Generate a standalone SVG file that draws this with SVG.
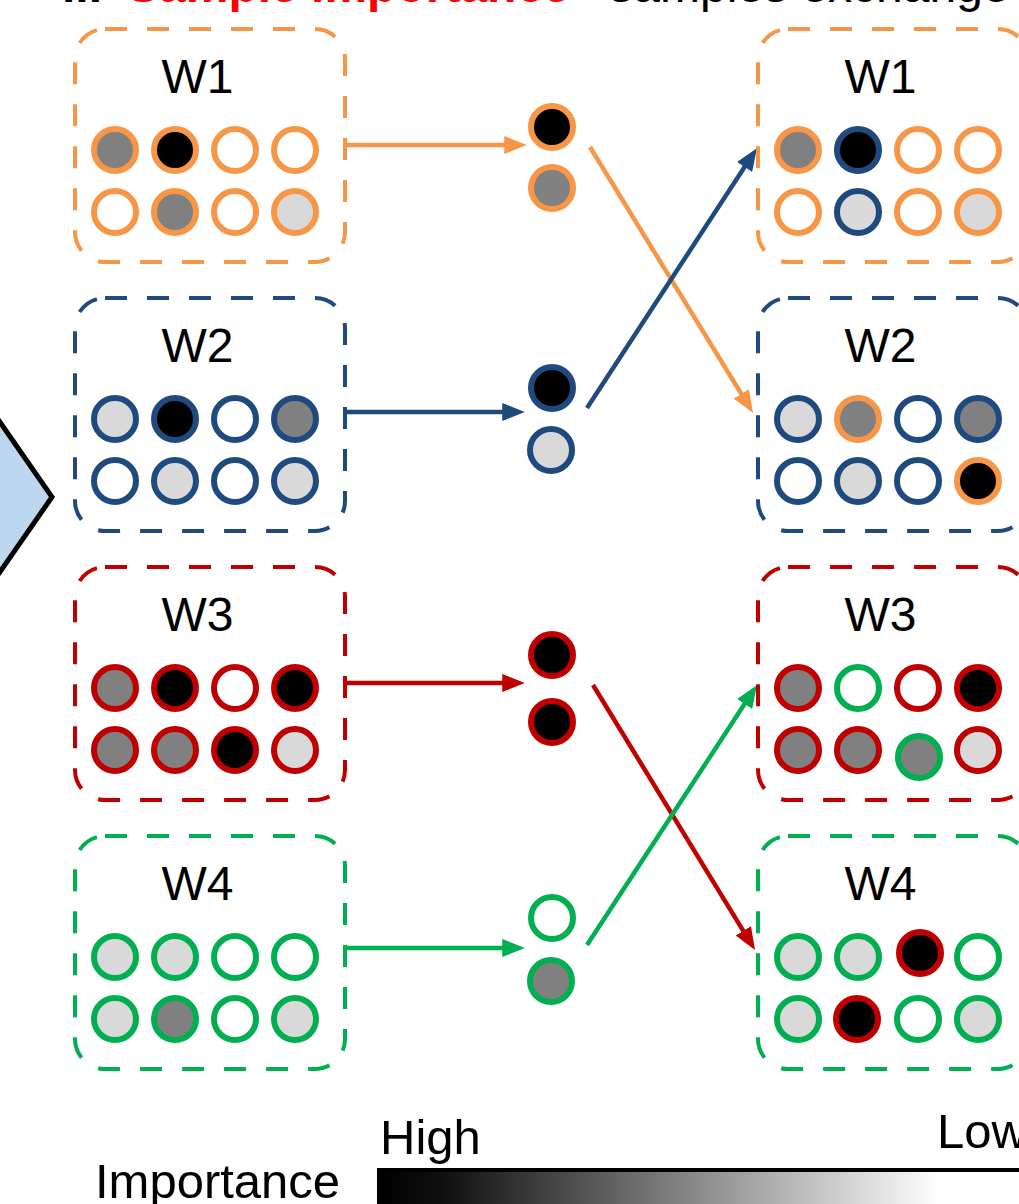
<svg xmlns="http://www.w3.org/2000/svg" width="1019" height="1204" viewBox="0 0 1019 1204">
<defs>
<style>
.t{font-family:"Liberation Sans",Arial,sans-serif;fill:#000}
.lbl{font-size:48px;text-anchor:middle}
.box{fill:none;stroke-width:4;stroke-dasharray:22 20}
.c{stroke-width:6}
.o{stroke:#F79646}.b{stroke:#1F4A7E}.r{stroke:#C00000}.g{stroke:#00B050}
.k{fill:#000}.m{fill:#808080}.l{fill:#D9D9D9}.w{fill:#fff}
.ln{stroke-width:4.5;fill:none}
</style>
<marker id="ao" viewBox="0 0 10 8" refX="7" refY="4" markerWidth="5" markerHeight="4" orient="auto"><path d="M0,0 L10,4 L0,8 z" fill="#F79646"/></marker>
<marker id="ab" viewBox="0 0 10 8" refX="7" refY="4" markerWidth="5" markerHeight="4" orient="auto"><path d="M0,0 L10,4 L0,8 z" fill="#1F4A7E"/></marker>
<marker id="ar" viewBox="0 0 10 8" refX="7" refY="4" markerWidth="5" markerHeight="4" orient="auto"><path d="M0,0 L10,4 L0,8 z" fill="#C00000"/></marker>
<marker id="ag" viewBox="0 0 10 8" refX="7" refY="4" markerWidth="5" markerHeight="4" orient="auto"><path d="M0,0 L10,4 L0,8 z" fill="#00B050"/></marker>
<linearGradient id="imp" gradientUnits="userSpaceOnUse" x1="378" y1="0" x2="940" y2="0">
<stop offset="0" stop-color="#000"/>
<stop offset="0.12" stop-color="#111"/>
<stop offset="1" stop-color="#fff"/>
</linearGradient>
</defs>
<rect width="1019" height="1204" fill="#fff"/>

<g id="title">
<text class="t" x="62" y="1.5" font-size="48" font-weight="bold">ii.</text>
<text class="t" x="127" y="1.5" font-size="48" font-weight="bold" style="fill:#FF0000">Sample importance</text>
<text class="t" x="580" y="1.5" font-size="48"> - samples exchange</text>
</g>

<g id="big-arrow">
<polygon points="-30,379 52,497 -30,615" fill="#BDD7EE" stroke="#000" stroke-width="5" stroke-linejoin="miter"/>
</g>

<g id="connectors">
<line class="ln o" x1="347" y1="145" x2="520" y2="145" marker-end="url(#ao)"/>
<line class="ln b" x1="345" y1="412" x2="518" y2="412" marker-end="url(#ab)"/>
<line class="ln r" x1="345" y1="683" x2="518" y2="683" marker-end="url(#ar)"/>
<line class="ln g" x1="345" y1="948" x2="518" y2="948" marker-end="url(#ag)"/>
<line class="ln o" x1="590" y1="147" x2="749.5" y2="407.3" marker-end="url(#ao)"/>
<line class="ln b" x1="587" y1="408" x2="753.2" y2="153.8" marker-end="url(#ab)"/>
<line class="ln r" x1="593" y1="685" x2="751.5" y2="944.3" marker-end="url(#ar)"/>
<line class="ln g" x1="587" y1="945" x2="753.2" y2="690.8" marker-end="url(#ag)"/>
</g>

<!-- Left workers -->
<g id="W1-left">
<rect class="box o" x="75" y="29" width="270" height="233" rx="30"/>
<text class="t lbl" x="197.5" y="93">W1</text>
<circle class="c o m" cx="115" cy="150" r="21"/><circle class="c o k" cx="175" cy="150" r="21"/><circle class="c o w" cx="235" cy="150" r="21"/><circle class="c o w" cx="295" cy="150" r="21"/>
<circle class="c o w" cx="115" cy="212" r="21"/><circle class="c o m" cx="175" cy="212" r="21"/><circle class="c o w" cx="235" cy="212" r="21"/><circle class="c o l" cx="295" cy="212" r="21"/>
</g>
<g id="W2-left">
<rect class="box b" x="75" y="298" width="270" height="233" rx="30"/>
<text class="t lbl" x="197.5" y="362">W2</text>
<circle class="c b l" cx="115" cy="419" r="21"/><circle class="c b k" cx="175" cy="419" r="21"/><circle class="c b w" cx="235" cy="419" r="21"/><circle class="c b m" cx="295" cy="419" r="21"/>
<circle class="c b w" cx="115" cy="481" r="21"/><circle class="c b l" cx="175" cy="481" r="21"/><circle class="c b w" cx="235" cy="481" r="21"/><circle class="c b l" cx="295" cy="481" r="21"/>
</g>
<g id="W3-left">
<rect class="box r" x="75" y="567" width="270" height="233" rx="30"/>
<text class="t lbl" x="197.5" y="631">W3</text>
<circle class="c r m" cx="115" cy="688" r="21"/><circle class="c r k" cx="175" cy="688" r="21"/><circle class="c r w" cx="235" cy="688" r="21"/><circle class="c r k" cx="295" cy="688" r="21"/>
<circle class="c r m" cx="115" cy="750" r="21"/><circle class="c r m" cx="175" cy="750" r="21"/><circle class="c r k" cx="235" cy="750" r="21"/><circle class="c r l" cx="295" cy="750" r="21"/>
</g>
<g id="W4-left">
<rect class="box g" x="75" y="836" width="270" height="233" rx="30"/>
<text class="t lbl" x="197.5" y="900">W4</text>
<circle class="c g l" cx="115" cy="957" r="21"/><circle class="c g l" cx="175" cy="957" r="21"/><circle class="c g w" cx="235" cy="957" r="21"/><circle class="c g w" cx="295" cy="957" r="21"/>
<circle class="c g l" cx="115" cy="1019" r="21"/><circle class="c g m" cx="175" cy="1019" r="21"/><circle class="c g w" cx="235" cy="1019" r="21"/><circle class="c g l" cx="295" cy="1019" r="21"/>
</g>

<!-- Middle exchanged samples -->
<g id="W1-samples"><circle class="c o k" cx="552" cy="127" r="21"/><circle class="c o m" cx="552" cy="188" r="21"/></g>
<g id="W2-samples"><circle class="c b k" cx="552" cy="388" r="21"/><circle class="c b l" cx="551" cy="450" r="21"/></g>
<g id="W3-samples"><circle class="c r k" cx="552" cy="655" r="21"/><circle class="c r k" cx="552" cy="722" r="21"/></g>
<g id="W4-samples"><circle class="c g w" cx="552" cy="918" r="21"/><circle class="c g m" cx="551" cy="981" r="21"/></g>

<!-- Right workers -->
<g id="W1-right">
<rect class="box o" x="758" y="29" width="270" height="233" rx="30"/>
<text class="t lbl" x="880.5" y="93">W1</text>
<circle class="c o m" cx="798" cy="150" r="21"/><circle class="c b k" cx="858" cy="150" r="21"/><circle class="c o w" cx="918" cy="150" r="21"/><circle class="c o w" cx="978" cy="150" r="21"/>
<circle class="c o w" cx="798" cy="212" r="21"/><circle class="c b l" cx="858" cy="212" r="21"/><circle class="c o w" cx="918" cy="212" r="21"/><circle class="c o l" cx="978" cy="212" r="21"/>
</g>
<g id="W2-right">
<rect class="box b" x="758" y="298" width="270" height="233" rx="30"/>
<text class="t lbl" x="880.5" y="362">W2</text>
<circle class="c b l" cx="798" cy="419" r="21"/><circle class="c o m" cx="858" cy="419" r="21"/><circle class="c b w" cx="918" cy="419" r="21"/><circle class="c b m" cx="978" cy="419" r="21"/>
<circle class="c b w" cx="798" cy="481" r="21"/><circle class="c b l" cx="858" cy="481" r="21"/><circle class="c b w" cx="918" cy="481" r="21"/><circle class="c o k" cx="978" cy="481" r="21"/>
</g>
<g id="W3-right">
<rect class="box r" x="758" y="567" width="270" height="233" rx="30"/>
<text class="t lbl" x="880.5" y="631">W3</text>
<circle class="c r m" cx="798" cy="688" r="21"/><circle class="c g w" cx="858" cy="688" r="21"/><circle class="c r w" cx="918" cy="688" r="21"/><circle class="c r k" cx="978" cy="688" r="21"/>
<circle class="c r m" cx="798" cy="750" r="21"/><circle class="c r m" cx="858" cy="750" r="21"/><circle class="c g m" cx="919" cy="757" r="21"/><circle class="c r l" cx="978" cy="750" r="21"/>
</g>
<g id="W4-right">
<rect class="box g" x="758" y="836" width="270" height="233" rx="30"/>
<text class="t lbl" x="880.5" y="900">W4</text>
<circle class="c g l" cx="798" cy="957" r="21"/><circle class="c g l" cx="858" cy="957" r="21"/><circle class="c r k" cx="920" cy="953" r="21"/><circle class="c g w" cx="978" cy="957" r="21"/>
<circle class="c g l" cx="798" cy="1019" r="21"/><circle class="c r k" cx="857" cy="1019" r="21"/><circle class="c g w" cx="918" cy="1019" r="21"/><circle class="c g l" cx="978" cy="1019" r="21"/>
</g>

<g id="legend">
<text class="t" x="380" y="1154" font-size="49">High</text>
<text class="t" x="937" y="1148" font-size="49">Low</text>
<text class="t" x="95" y="1198" font-size="49">Importance</text>
<rect x="379" y="1170" width="700" height="50" fill="url(#imp)" stroke="#000" stroke-width="4"/>
</g>
</svg>
